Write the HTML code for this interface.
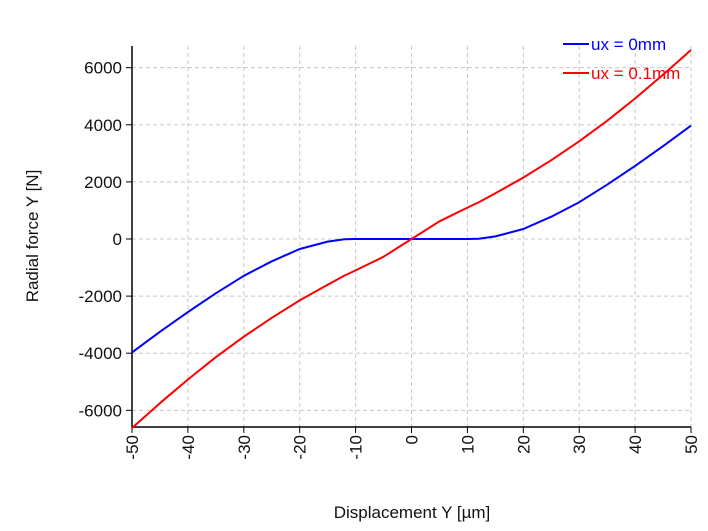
<!DOCTYPE html>
<html><head><meta charset="utf-8"><style>
html,body{margin:0;padding:0;background:#fff;}
svg{display:block;font-family:"Liberation Sans",sans-serif;}
</style></head><body>
<svg id="chart" width="708" height="531" viewBox="0 0 708 531"></svg>
<script>
const xs = [-50,-45,-40,-35,-30,-25,-20,-15,-12,-10,-5,0,5,10,12,15,20,25,30,35,40,45,50];
const blueY = [-3970,-3250,-2560,-1900,-1290,-780,-350,-90,-10,0,0,0,0,0,10,90,350,780,1290,1900,2560,3250,3970];
const redY = [-6620,-5750,-4920,-4140,-3420,-2760,-2150,-1600,-1280,-1100,-620,0,620,1100,1280,1600,2150,2760,3420,4140,4920,5750,6620];
const xTicks = [-50,-40,-30,-20,-10,0,10,20,30,40,50];
const yTicks = [-6000,-4000,-2000,0,2000,4000,6000];
const NS="http://www.w3.org/2000/svg";
const svg=document.getElementById('chart');
const X0=132,X1=691,YT=46,YB=427;
const xS=v=>X0+(v+50)/100*(X1-X0);
const yS=v=>239-v*0.028555;
function mk(t,a,p){const e=document.createElementNS(NS,t);for(const k in a)e.setAttribute(k,a[k]);(p||svg).appendChild(e);return e;}
for(const t of xTicks){
  const g=mk('line',{x1:xS(t),x2:xS(t),y1:YT,y2:YB,stroke:'#c8c8c8','stroke-dasharray':'4,3'});
  
  
  const tk=mk('line',{x1:xS(t),x2:xS(t),y1:YB,y2:YB+6,stroke:'#000'});
  
  
  const l=mk('text',{x:0,y:0,'font-size':17,fill:'#111','text-anchor':'end',transform:`translate(${xS(t)+6},${YB+8}) rotate(-90)`});
  l.textContent=t;
  
  
}
for(const t of yTicks){
  const g=mk('line',{x1:X0,x2:X1,y1:yS(t),y2:yS(t),stroke:'#c8c8c8','stroke-dasharray':'4,3'});
  
  
  const tk=mk('line',{x1:X0-6,x2:X0,y1:yS(t),y2:yS(t),stroke:'#000'});
  
  
  const l=mk('text',{x:X0-10,y:yS(t)+6,'font-size':17,fill:'#111','text-anchor':'end'});
  l.textContent=t;
  
  
}
const ax=mk('path',{d:`M${X0},${YT}V${YB}H${X1}`,fill:'none',stroke:'#000','stroke-width':1.5});


function series(ys,color,name){
  const d=xs.map((x,i)=>(i?'L':'M')+xS(x).toFixed(1)+','+yS(ys[i]).toFixed(1)).join('');
  const p=mk('path',{d,fill:'none',stroke:color,'stroke-width':2,'stroke-linejoin':'round'});
  
  
}
series(blueY,'#0000ff','series-ux-0mm');
series(redY,'#ff0000','series-ux-0.1mm');
const leg=[['ux = 0mm','#0000ff',50],['ux = 0.1mm','#ff0000',79]];
for(const [t,c,y] of leg){
  const s=mk('line',{x1:563,x2:589,y1:y-6,y2:y-6,stroke:c,'stroke-width':2});
  
  
  const l=mk('text',{x:591,y:y,'font-size':17,fill:c});
  l.textContent=t;
  
  
}
const xt=mk('text',{x:412,y:518,'font-size':17,fill:'#111','text-anchor':'middle'});
xt.textContent='Displacement Y [µm]';


const yt=mk('text',{x:0,y:0,'font-size':17,fill:'#111','text-anchor':'middle',transform:'translate(38,236) rotate(-90)'});
yt.textContent='Radial force Y [N]';


</script>
</body></html>
